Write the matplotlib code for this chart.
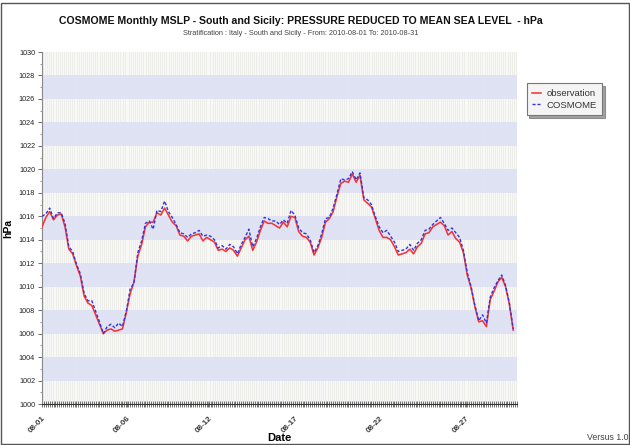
import numpy as np
import matplotlib
matplotlib.use('Agg')
import matplotlib.pyplot as plt
from matplotlib.patches import Rectangle
from matplotlib.ticker import MultipleLocator

plt.rcParams['font.family'] = ['Liberation Sans', 'DejaVu Sans']

# 6-hourly samples, August 2010 (days since 08-01 00h)
STEP_DAYS = 0.25

obs = [
    1015.1, 1015.9, 1016.4, 1015.7, 1016.1, 1016.2, 1015.1, 1013.2, 1012.8, 1011.8,
    1010.9, 1009.2, 1008.6, 1008.4, 1007.6, 1006.8, 1006.0, 1006.3, 1006.4, 1006.2,
    1006.3, 1006.4, 1007.8, 1009.4, 1010.4, 1012.6, 1013.6, 1015.1, 1015.5, 1015.5,
    1016.3, 1016.1, 1016.7, 1016.1, 1015.5, 1015.2, 1014.4, 1014.3, 1013.9, 1014.3,
    1014.4, 1014.5, 1013.9, 1014.2, 1014.0, 1013.8, 1013.1, 1013.2, 1013.0, 1013.3,
    1013.1, 1012.6, 1013.3, 1014.0, 1014.3, 1013.1, 1013.8, 1014.8, 1015.6, 1015.4,
    1015.4, 1015.2, 1015.0, 1015.5, 1015.1, 1016.0, 1015.9, 1014.7, 1014.3, 1014.2,
    1013.8, 1012.7, 1013.3, 1014.2, 1015.5, 1015.8, 1016.4, 1017.7, 1018.8, 1019.0,
    1018.9, 1019.6, 1018.9, 1019.5, 1017.4, 1017.1, 1016.8, 1015.8, 1014.8, 1014.2,
    1014.2, 1014.0, 1013.4, 1012.7, 1012.8, 1012.9, 1013.2, 1012.8, 1013.4, 1013.7,
    1014.5, 1014.6, 1015.1, 1015.3, 1015.5, 1015.2, 1014.4, 1014.7, 1014.1, 1013.8,
    1012.9, 1011.0, 1009.9, 1008.3, 1007.0, 1007.1, 1006.6, 1008.9, 1009.6, 1010.4,
    1010.8, 1010.0, 1008.5, 1006.3,
]

cosmome = [
    1016.0, 1016.2, 1016.7, 1015.8, 1016.3, 1016.3, 1015.4, 1013.4, 1013.0, 1011.9,
    1011.1, 1009.4, 1008.8, 1008.8, 1007.9, 1007.0, 1006.0, 1006.6, 1006.8, 1006.5,
    1006.9, 1006.6, 1007.9, 1009.8, 1010.3, 1012.9, 1013.9, 1015.4, 1015.6, 1014.9,
    1016.5, 1016.4, 1017.3, 1016.4, 1015.9, 1015.3, 1014.6, 1014.5, 1014.2, 1014.5,
    1014.6, 1014.8, 1014.3, 1014.4, 1014.3, 1014.0, 1013.3, 1013.5, 1013.2, 1013.6,
    1013.4, 1012.8, 1013.6, 1014.2, 1014.9, 1013.4, 1014.1, 1015.1, 1015.9, 1015.8,
    1015.6, 1015.6, 1015.3, 1015.7, 1015.4, 1016.5, 1016.1, 1015.0, 1014.6, 1014.5,
    1014.0, 1012.9, 1013.5, 1014.5, 1015.8, 1015.9, 1016.7, 1017.9, 1019.2, 1019.1,
    1019.2, 1019.8, 1019.1, 1019.7, 1017.6, 1017.4, 1017.0, 1016.0, 1015.1, 1014.6,
    1014.8, 1014.3, 1013.8, 1013.0, 1013.1, 1013.2, 1013.6, 1013.1, 1013.7, 1014.0,
    1014.8, 1014.9, 1015.3, 1015.6, 1015.9, 1015.4, 1014.8, 1015.0, 1014.6, 1014.2,
    1013.1, 1011.2, 1010.0, 1008.4, 1007.1, 1007.6, 1006.9, 1009.1, 1009.9, 1010.5,
    1011.0, 1010.1, 1008.6, 1006.4,
]

date_labels = ['08-01', '08-06', '08-12', '08-17', '08-22', '08-27']
label_days = [0.0, 5.55, 10.85, 16.5, 22.0, 27.65]
y_ticks = list(range(1000, 1031, 2))

t = np.arange(len(obs)) * STEP_DAYS

fig = plt.figure(figsize=(6.3, 4.45), dpi=100)
ax = fig.add_axes([0.0667, 0.0921, 0.754, 0.791])

ax.set_xlim(0, 31)
ax.set_ylim(1000, 1030)
ax.set_facecolor('#e9e9e4')

# fine vertical grid (3-hourly), near-white on the grey bands
ax.xaxis.set_minor_locator(MultipleLocator(0.125))
ax.grid(True, axis='x', which='both', color='#f8f8f6', lw=1.0, zorder=0)
ax.set_axisbelow(True)

# blue bands on top of the grid
for k in range(1, len(y_ticks) - 1, 2):
    ax.axhspan(y_ticks[k], y_ticks[k + 1], color='#dee2f4', alpha=0.95, lw=0, zorder=1)

ax.plot(t, obs, color='#f53535', lw=1.15, zorder=3, label='observation')
ax.plot(t, cosmome, color='#3434d8', lw=1.0, ls=(0, (2.2, 1.4)), zorder=4,
        label='COSMOME')

ax.set_yticks(y_ticks)
ax.set_yticks(range(1000, 1031), minor=True)
ax.tick_params(axis='y', which='major', labelsize=5.2, length=3, width=0.6,
               colors='#555555', labelcolor='#222222', pad=2)
ax.tick_params(axis='y', which='minor', length=1.8, width=0.5, colors='#777777')

ax.set_xticks(label_days)
ax.set_xticklabels(date_labels, rotation=45, ha='right', rotation_mode='anchor',
                   fontsize=5.8, fontweight='bold', color='#222222')
ax.tick_params(axis='x', which='both', direction='inout', length=4, width=0.5,
               colors='#3a3a3a', pad=6)

for s in ['top', 'right']:
    ax.spines[s].set_visible(False)
ax.spines['left'].set_color('#888888')
ax.spines['left'].set_linewidth(0.8)
ax.spines['bottom'].set_color('#333333')
ax.spines['bottom'].set_linewidth(0.8)

ax.set_ylabel('hPa', fontsize=7.5, fontweight='bold', labelpad=4)
ax.set_xlabel('Date', fontsize=8, fontweight='bold', labelpad=-1)

leg = ax.legend(loc='upper left', bbox_to_anchor=(1.01, 0.925), fontsize=6.8,
                frameon=True, fancybox=False, shadow=True, handlelength=0.9,
                handletextpad=0.6, borderpad=0.6, labelspacing=0.3)
leg.get_frame().set_edgecolor('#777777')
leg.get_frame().set_facecolor('#f4f4f4')
leg.get_frame().set_linewidth(0.8)
for txt in leg.get_texts():
    txt.set_color('#333333')

fig.text(0.478, 0.953,
         'COSMOME Monthly MSLP - South and Sicily: PRESSURE REDUCED TO MEAN SEA LEVEL  - hPa',
         ha='center', va='center', fontsize=7.6, fontweight='bold', color='#111111')
fig.text(0.478, 0.925,
         'Stratification : Italy - South and Sicily - From: 2010-08-01 To: 2010-08-31',
         ha='center', va='center', fontsize=5.3, color='#444444')
fig.text(0.997, 0.016, 'Versus 1.0', ha='right', va='center', fontsize=6.3,
         color='#444444')

fig.patches.append(Rectangle((0.002, 0.002), 0.996, 0.992, transform=fig.transFigure,
                             fill=False, edgecolor='#555555', lw=1.0))

fig.savefig('out.png', dpi=100)
